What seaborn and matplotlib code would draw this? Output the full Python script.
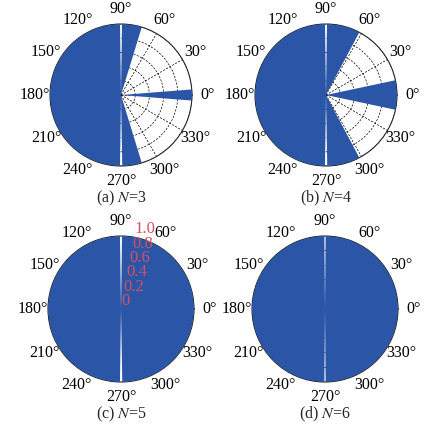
import numpy as np
import matplotlib.pyplot as plt
import seaborn as sns

sns.set_style("white")
plt.rcParams["font.family"] = ["Liberation Serif", "DejaVu Serif"]
plt.rcParams["mathtext.fontset"] = "stix"

# sectors of each panel (degrees), radius = 1
panel_labels = ["(a) $N$=3", "(b) $N$=4", "(c) $N$=5", "(d) $N$=6"]
start_a = [90.8, 73.0, -4.5, 271.0]
end_a = [269.2, 89.2, 4.5, 287.0]
start_b = [90.8, 62.0, -12.0, 271.0]
end_b = [269.2, 89.2, 12.0, 298.0]
start_c = [90.8, 271.0]
end_c = [269.2, 449.2]
start_d = [90.5, 270.5]
end_d = [269.5, 449.5]
starts = [start_a, start_b, start_c, start_d]
ends = [end_a, end_b, end_c, end_d]

r_ticks = [0, 0.2, 0.4, 0.6, 0.8, 1.0]
r_ticklabels = ["0", "0.2", "0.4", "0.6", "0.8", "1.0"]
theta_ticks = list(range(0, 360, 30))

blue = "#2B56A8"
W, H = 430, 434
# centre x, centre y (pixels from top) and radius of each dial
geom = [(121, 95, 71), (326, 95, 71), (121, 309, 73), (325, 309, 73)]

fig = plt.figure(figsize=(W / 100, H / 100), dpi=100)
for i, (cx, cy, rr) in enumerate(geom):
    ax = fig.add_axes([(cx - rr) / W, (H - cy - rr) / H, 2 * rr / W, 2 * rr / H],
                      projection="polar")
    s = np.array(starts[i])
    e = np.array(ends[i])
    ax.bar(np.deg2rad((s + e) / 2), np.ones(len(s)), width=np.deg2rad(e - s),
           bottom=0, color=blue, edgecolor="none", zorder=3)
    ax.set_ylim(0, 1)
    ax.set_yticks(r_ticks)
    ax.set_xticks(np.deg2rad(theta_ticks))
    ax.set_xticklabels([f"{t}°" for t in theta_ticks], fontsize=11.5, color="black")
    ax.tick_params(axis="x", pad=0.5)
    ax.grid(True, color="black", linestyle=(0, (3, 2)), linewidth=0.5)
    # no spokes along the two white gaps
    gl = ax.xaxis.get_gridlines()
    gl[3].set_visible(False)
    gl[9].set_visible(False)
    ax.spines["polar"].set_linewidth(0.8)
    if i == 2:
        ax.yaxis.grid(False)
        ax.yaxis.set_zorder(5)
        ax.set_yticklabels(r_ticklabels, color="#D5505F", fontsize=12)
        ax.set_rlabel_position(79)
    else:
        ax.set_yticklabels([])
    ax.text(0.5, -0.225, panel_labels[i], transform=ax.transAxes,
            ha="center", va="center", fontsize=11.5)

fig.savefig("out.png", dpi=100)
